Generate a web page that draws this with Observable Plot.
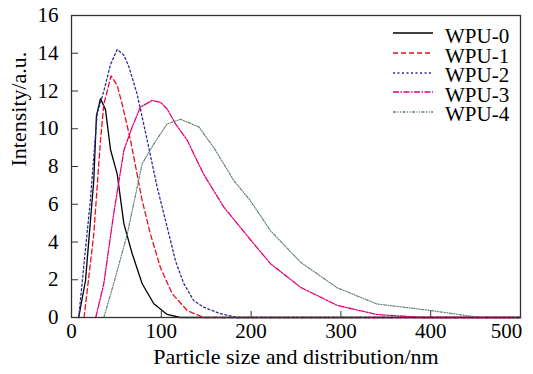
<!DOCTYPE html>
<html>
<head>
<meta charset="utf-8">
<script src="https://cdn.jsdelivr.net/npm/d3@7"></script>
<script src="https://cdn.jsdelivr.net/npm/@observablehq/plot@0.6"></script>
<style>
  body { margin: 0; background: #fff; }
  #wrap { position: relative; width: 533px; height: 374px; font-family: "Liberation Serif", "Times New Roman", serif; }
  #legend { position: absolute; left: 393px; top: 27px; }
  .row { display: flex; align-items: center; height: 19.6px; line-height: 19.6px; font-size: 21px; color: #000; white-space: nowrap; }
  .row svg { width: 40px; height: 10px; margin-right: 12px; position: relative; top: -3.4px; flex: none; }
</style>
</head>
<body>
<div id="wrap"><div id="legend"></div></div>
<script>
const seriesNames = ["WPU-0", "WPU-1", "WPU-2", "WPU-3", "WPU-4"];
const seriesColors = ["#000000", "#e8101e", "#2b2b9c", "#e6007e", "#5f7f6e"];
const seriesDash = [null, "5,3", "2,2.5", "6,1.5,1.5,1.5", "3,1.5,1,1.5,1,1.5"];

const wpu0X = [8, 15.6, 24.8, 27.8, 32.3, 37.9, 43.4, 50.9, 58.3, 67.6, 78.7, 91.7, 106.5, 121, 500];
const wpu0Y = [0, 1.96, 7.26, 10.7, 11.6, 11.0, 8.9, 7.6, 4.97, 3.38, 1.79, 0.73, 0.16, 0, 0];
const wpu1X = [14, 24.8, 32.3, 36, 44, 50.9, 56.4, 65.7, 78.7, 88, 99, 112, 128.8, 147, 500];
const wpu1Y = [0, 4.4, 9.4, 11.3, 12.8, 12.3, 11.3, 9.4, 6.2, 4.4, 2.65, 1.27, 0.37, 0, 0];
const wpu2X = [8, 21, 28.6, 36, 43.4, 50.9, 58.3, 63.8, 73, 84.3, 95.4, 106.5, 115.8, 125, 136, 147, 166, 185, 500];
const wpu2Y = [0, 6.2, 10.8, 12.0, 13.4, 14.2, 13.9, 13.3, 11.85, 9.4, 6.9, 4.8, 3.0, 1.8, 0.9, 0.55, 0.2, 0, 0];
const wpu3X = [27, 36, 47, 58.3, 67.6, 76.8, 89.9, 99, 106.5, 115.8, 128.8, 147, 169.6, 197, 221.6, 255, 296, 340, 392, 500];
const wpu3Y = [0, 1.8, 5.5, 8.85, 10.1, 11.15, 11.5, 11.4, 11.05, 10.26, 9.4, 7.6, 5.85, 4.25, 2.85, 1.6, 0.64, 0.16, 0, 0];
const wpu4X = [36, 47, 62, 78.7, 91.7, 106.5, 121.4, 141.8, 158.5, 180.7, 199, 221.6, 255, 296, 340, 400, 455, 500];
const wpu4Y = [0, 1.8, 4.4, 8.15, 9.2, 10.26, 10.5, 10.1, 9.0, 7.26, 6.2, 4.6, 2.93, 1.57, 0.72, 0.37, 0, 0];

const xTicks = [0, 100, 200, 300, 400, 500];
const yTicks = [0, 2, 4, 6, 8, 10, 12, 14, 16];
const xTitle = "Particle size and distribution/nm";
const yTitle = "Intensity/a.u.";

const allX = [wpu0X, wpu1X, wpu2X, wpu3X, wpu4X];
const allY = [wpu0Y, wpu1Y, wpu2Y, wpu3Y, wpu4Y];
const rows = [];
seriesNames.forEach((s, i) => allX[i].forEach((x, j) => rows.push({series: s, x, y: allY[i][j]})));

const lineMarks = seriesNames.map((s, i) => Plot.line(rows.filter(d => d.series === s), {
  x: "x", y: "y", stroke: seriesColors[i], strokeWidth: i === 4 ? 1.15 : 1.3,
  strokeDasharray: seriesDash[i] ?? undefined, strokeLinejoin: "round"
}));

const chart = Plot.plot({
  width: 533, height: 374,
  marginLeft: 71, marginRight: 13, marginTop: 15, marginBottom: 57,
  style: {fontFamily: '"Liberation Serif", "Times New Roman", serif', fontSize: "21px", color: "#000", background: "transparent"},
  x: {domain: [0, 500]},
  y: {domain: [0, 16]},
  marks: [
    ...lineMarks,
    Plot.frame({stroke: "#333", strokeWidth: 1.3}),
    Plot.axisX(xTicks.slice(1, -1), {tickSize: -6, text: null, stroke: "#333", label: null}),
    Plot.axisX(xTicks.slice(0, -1), {tickSize: 0, tickPadding: 6, tickFormat: d => String(d), label: null}),
    Plot.axisX(xTicks.slice(-1), {tickSize: 0, tickPadding: 6, dx: -14, tickFormat: d => String(d), label: null}),
    Plot.axisY(yTicks.slice(1, -1), {tickSize: -7, text: null, stroke: "#333", label: null}),
    Plot.axisY(yTicks, {tickSize: 0, tickPadding: 13, tickFormat: d => String(d), label: null}),
    Plot.text([xTitle], {text: d => d, frameAnchor: "bottom", lineAnchor: "bottom", dy: 46, fontSize: 22}),
    Plot.text([yTitle], {text: d => d, frameAnchor: "left", lineAnchor: "top", rotate: -90, dx: -61, fontSize: 22})
  ]
});
document.getElementById("wrap").prepend(chart);

const legend = document.getElementById("legend");
seriesNames.forEach((s, i) => {
  const row = document.createElement("div");
  row.className = "row";
  row.innerHTML = `<svg viewBox="0 0 40 10"><line x1="0" x2="40" y1="5" y2="5" stroke="${seriesColors[i]}" stroke-width="1.3" ${seriesDash[i] ? `stroke-dasharray="${seriesDash[i]}"` : ""}/></svg><span>${s}</span>`;
  legend.appendChild(row);
});
</script>
</body>
</html>
